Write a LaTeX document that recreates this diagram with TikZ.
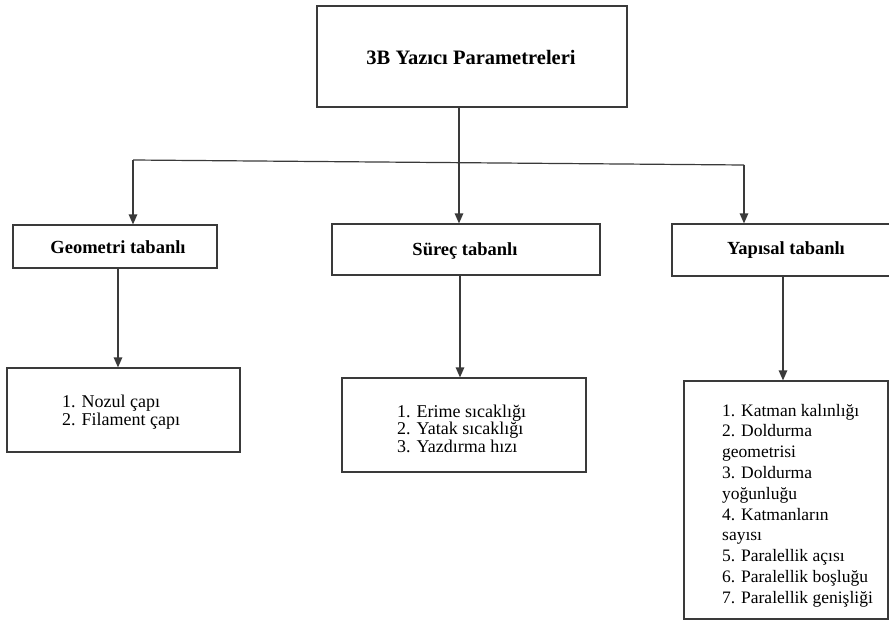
\documentclass[tikz,border=0pt]{standalone}
\usepackage{fontspec}
\setmainfont{Liberation Serif}
\usetikzlibrary{arrows.meta}
\definecolor{lineg}{HTML}{3A3A3A}
\begin{document}
\begin{tikzpicture}[x=1pt,y=-1pt,
  box/.style={draw=lineg,line width=1.2pt,rectangle,inner sep=0pt},
  head/.style={font=\fontsize{18.5}{20}\selectfont\bfseries,inner sep=0pt},
  item/.style={font=\fontsize{18}{20}\selectfont,anchor=base west,inner sep=0pt},
  kitem/.style={font=\fontsize{17.5}{20}\selectfont,anchor=base west,inner sep=0pt},
  conn/.style={draw=lineg,line width=1.2pt},
  arr/.style={conn,-{Triangle[length=10pt,width=8.5pt]}}]
\useasboundingbox (0,0) rectangle (889,621);
% top
\node[box,minimum width=310pt,minimum height=101pt] (top) at (472,56.5) {};
\node[head,font=\fontsize{20.5}{22}\selectfont\bfseries] (toptxt) at (471,57) {3B Yazıcı Parametreleri};
% level 2
\node[box,minimum width=204pt,minimum height=43pt] (geo) at (115,246.5) {};
\node[head] (geotxt) at (118,247) {Geometri tabanlı};
\node[box,minimum width=268pt,minimum height=51pt] (sur) at (466,249.5) {};
\node[head] (surtxt) at (465,250.5) {Süreç tabanlı};
\node[box,minimum width=222pt,minimum height=52pt] (yap) at (783,250) {};
\node[head] (yaptxt) at (786,250) {Yapısal tabanlı};
% level 3
\node[box,minimum width=233pt,minimum height=84pt] (noz) at (123.5,410) {};
\node[item] (n1) at (62,407) {1. Nozul çapı};
\node[item] (n2) at (62,425) {2. Filament çapı};
\node[box,minimum width=244pt,minimum height=94pt] (eri) at (464,425) {};
\node[item] (e1) at (397,417) {1. Erime sıcaklığı};
\node[item] (e2) at (397,434.5) {2. Yatak sıcaklığı};
\node[item] (e3) at (397,452) {3. Yazdırma hızı};
\node[box,minimum width=204pt,minimum height=238pt] (kat) at (786,500) {};
\foreach \t [count=\i from 0] in {1. Katman kalınlığı,2. Doldurma,geometrisi,3. Doldurma,yoğunluğu,4. Katmanların,sayısı,5. Paralellik açısı,6. Paralellik boşluğu,7. Paralellik genişliği}
  \node[kitem] (k\i) at (722,416+20.8*\i) {\t};
% connectors
\coordinate (jl) at (133,160);
\coordinate (jc) at (459,162.7);
\coordinate (jr) at (744,165);
\draw[conn] (jl) -- (jr);
\draw[arr] (top.south -| jc) -- (sur.north -| jc);
\draw[arr] (jl) -- (geo.north -| jl);
\draw[arr] (jr) -- (yap.north -| jr);
\coordinate (g3) at (118,0);
\coordinate (s3) at (460,0);
\coordinate (y3) at (783,0);
\draw[arr] (geo.south -| g3) -- (noz.north -| g3);
\draw[arr] (sur.south -| s3) -- (eri.north -| s3);
\draw[arr] (yap.south -| y3) -- (kat.north -| y3);
\end{tikzpicture}
\end{document}
